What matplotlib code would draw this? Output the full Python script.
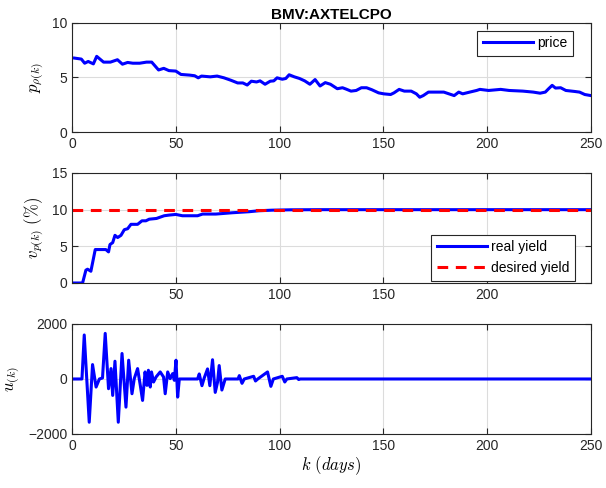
import matplotlib
matplotlib.use("Agg")
import matplotlib.pyplot as plt

plt.rcParams['font.family'] = ['Liberation Sans', 'DejaVu Sans']
plt.rcParams['mathtext.fontset'] = 'cm'

# price
price_days = [1.2, 4.5, 6.1, 7.8, 10.3, 11.9, 15.2, 18.5, 21.9, 24.3, 26.8, 29.3, 32.6,
              35.9, 38.4, 41.7, 44.2, 46.7, 50, 52.5, 56.6, 59.1, 60.8, 62.4, 66.6,
              69.9, 73.2, 76.5, 79.8, 82.3, 84.4, 86.4, 88.9, 90.6, 93, 95.5, 97.2,
              98.8, 101.3, 103, 104.6, 107.1, 109.6, 112.1, 114.6, 117.1, 119.5, 122,
              124.5, 127.8, 130.3, 132, 134.4, 136.9, 139.4, 141.9, 144.4, 147.7,
              150.2, 153.5, 155.1, 157.6, 160.1, 163.4, 165.9, 167.5, 169.2, 171.7,
              175.8, 179.1, 181.6, 184.1, 186.3, 188.2, 191.6, 194.9, 196.5, 200.7,
              206.5, 210.6, 217.2, 222.2, 225.5, 228, 229.6, 231.3, 232.9, 235.4,
              237.9, 242.1, 244.5, 247, 250]
price = [6.78, 6.69, 6.31, 6.47, 6.25, 6.94, 6.41, 6.41, 6.63, 6.22, 6.38, 6.31, 6.31,
         6.41, 6.41, 5.69, 5.84, 5.63, 5.59, 5.28, 5.22, 5.16, 4.97, 5.13, 5.06,
         5.13, 4.97, 4.75, 4.5, 4.5, 4.31, 4.66, 4.59, 4.69, 4.38, 4.66, 4.69,
         4.97, 4.84, 4.91, 5.25, 5.06, 4.91, 4.69, 4.38, 4.81, 4.22, 4.53,
         4.38, 3.97, 4.06, 3.94, 3.75, 3.81, 4.06, 4.06, 3.88, 3.59,
         3.5, 3.44, 3.59, 3.91, 3.75, 3.75, 3.5, 3.19, 3.34, 3.66,
         3.66, 3.66, 3.5, 3.34, 3.66, 3.5, 3.66, 3.81, 3.91, 3.81,
         3.91, 3.81, 3.75, 3.66, 3.56, 3.66, 3.97, 4.28, 4.03, 4.06,
         3.81, 3.72, 3.66, 3.44, 3.34]

# real yield (%)
yield_days = [0, 5.1, 6.7, 7.5, 9.1, 11.2, 16.3, 17.6, 18.3, 19.6, 20.7, 22, 23.6, 25.2,
              26.8, 28.4, 31.6, 33.7, 35.6, 37.2, 40.7, 44.4, 46.8, 50, 53.2, 60.5,
              62.9, 69.3, 77.3, 85.3, 90, 96.4, 105, 120, 250]
real_yield = [0, 0, 1.75, 1.88, 1.6, 4.56, 4.56, 4.24, 5.25, 5.5, 6.5, 6.2, 6.5, 7.27,
              7.4, 8.0, 8.0, 8.48, 8.48, 8.7, 8.8, 9.17, 9.26, 9.35, 9.17, 9.17,
              9.4, 9.4, 9.58, 9.72, 9.85, 9.93, 9.98, 10.0, 10.0]
desired_days = [0, 250]
desired_yield = [10, 10]

# control signal u(k)
u_days = [0, 4.8, 5.9, 8.3, 9.9, 11.6, 13.2, 14.7, 16, 17.6, 18.8, 19.6, 20.7, 22.3,
          24.1, 26, 27.3, 28.9, 30, 31.6, 32.9, 34, 35.2, 36.1, 36.8, 37.7, 38.3,
          39.3, 40.5, 42.5, 44.1, 44.9, 46.1, 47.3, 48.5, 49.3, 50.1, 50.9, 51.7,
          60.5, 61.3, 62.6, 63.7, 65.3, 66.4, 67.7, 69, 70.1, 70.9, 72.2, 73.8,
          80, 80.6, 81.9, 83, 87.5, 88.4, 89.5, 94.2, 95.8, 97, 101.3, 102.5, 103.5,
          108.3, 109.2, 110, 250]
u = [0, 0, 1600, -1573, 524, -293, 0, 37, 1658, -354, 378, -598, 646, -1573,
     927, -1024, 683, -537, 12, 378, -232, -780, 256, -232, 317, -293, 256,
     -110, 73, 256, 73, -537, 256, 12, 195, -49, 683, -659, 0,
     0, 183, -244, 37, 366, -244, 700, -488, -122, 488, -402, 0,
     0, 122, -159, 0, 98, -73, 0, 256, -268, 0, 98, -110, 0,
     49, -20, 0, 0]

fig = plt.figure(figsize=(6.06, 4.88), dpi=100)
ax1 = fig.add_axes([0.1188, 0.7295, 0.8564, 0.2234])
ax2 = fig.add_axes([0.1188, 0.4201, 0.8564, 0.2254])
ax3 = fig.add_axes([0.1188, 0.1107, 0.8564, 0.2254])

for ax in (ax1, ax2, ax3):
    ax.set_xlim(0, 250)
    ax.grid(True, color='#dcdcdc', linewidth=0.8)
    ax.set_axisbelow(True)
    ax.tick_params(direction='in', length=4, labelsize=10, colors='#262626',
                   top=True, right=True)
    for s in ax.spines.values():
        s.set_color('#262626')
        s.set_linewidth(0.8)

ax1.plot(price_days, price, color='#0000ff', linewidth=2.2, label='price')
ax1.set_ylim(0, 10)
ax1.set_yticks([0, 5, 10])
ax1.set_xticks([0, 50, 100, 150, 200, 250])
ax1.set_ylabel(r'$p_{\rho(k)}$', fontsize=12)
ax1.set_title('BMV:AXTELCPO', fontsize=11, fontweight='bold', pad=3)
leg = ax1.legend(loc='upper right', bbox_to_anchor=(0.965, 0.93), borderaxespad=0,
                 fontsize=10, fancybox=False, framealpha=1, edgecolor='#262626',
                 handlelength=3.6, handletextpad=0.3, borderpad=0.4)
leg.get_frame().set_linewidth(0.8)

ax2.plot(yield_days, real_yield, color='#0000ff', linewidth=2.2, label='real yield')
ax2.plot(desired_days, desired_yield, color='#ff0000', linewidth=2.2,
         linestyle=(0, (3.5, 2.5)), label='desired yield')
ax2.set_ylim(0, 15)
ax2.set_yticks([0, 5, 10, 15])
ax2.set_xticks([50, 100, 150, 200])
ax2.set_ylabel(r'$v_{p(k)}$ $(\%)$', fontsize=12)
leg = ax2.legend(loc='lower right', bbox_to_anchor=(0.969, 0.02), borderaxespad=0,
                 fontsize=10, fancybox=False, framealpha=1, edgecolor='#262626',
                 handlelength=3.6, handletextpad=0.3, borderpad=0.4)
leg.get_frame().set_linewidth(0.8)

ax3.plot(u_days, u, color='#0000ff', linewidth=2.2)
ax3.set_ylim(-2000, 2000)
ax3.set_yticks([-2000, 0, 2000])
ax3.set_xticks([0, 50, 100, 150, 200, 250])
ax3.set_ylabel(r'$u_{(k)}$', fontsize=12)
ax3.set_xlabel(r'$k\ (days)$', fontsize=12, labelpad=1)

fig.savefig('out.png', dpi=100)
